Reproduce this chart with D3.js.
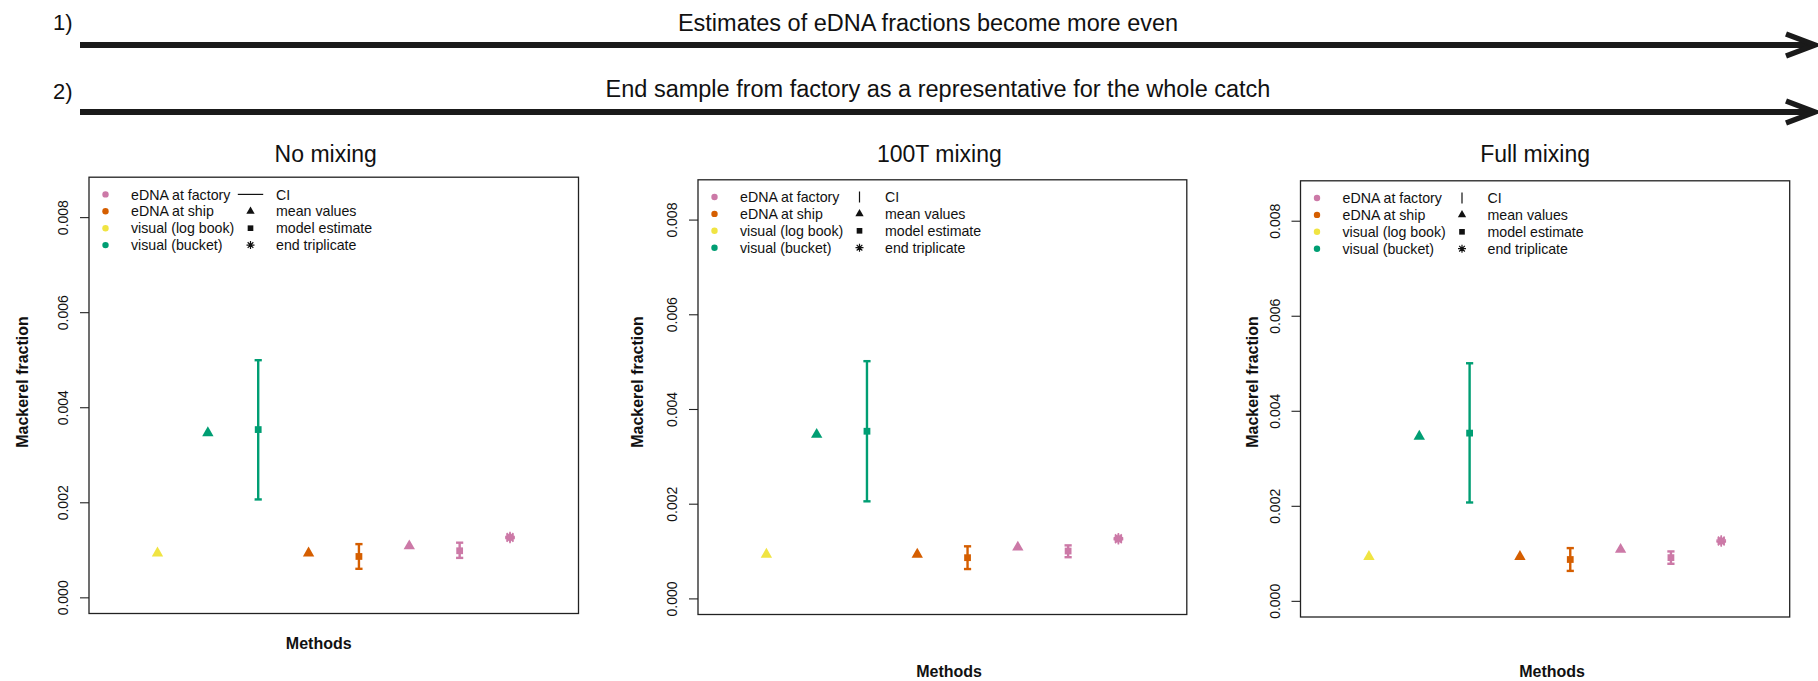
<!DOCTYPE html>
<html>
<head>
<meta charset="utf-8">
<script src="https://cdn.jsdelivr.net/npm/d3@7"></script>
<style>
  body { margin: 0; background: #fff; }
  svg { display: block; }
  text { font-family: "Liberation Sans", Arial, Helvetica, sans-serif; fill: #111; }
</style>
</head>
<body>
<svg id="chart" width="1818" height="681"></svg>
<script>
// ---- data ----------------------------------------------------------------
const panelTitles = ["No mixing", "100T mixing", "Full mixing"];

// eight method slots along the x axis (1..8)
const methodSlots = [
  "visual (log book) mean", "visual (bucket) mean", "visual (bucket) model",
  "eDNA at ship mean", "eDNA at ship model",
  "eDNA at factory mean", "eDNA at factory model", "eDNA at factory end triplicate"
];

// mean values: log book, bucket, ship, factory
const meanSlot   = [1, 2, 4, 6];
const meanGroup  = [2, 3, 1, 0];               // index into groupColors
const meanValues = [0.00093, 0.00346, 0.00093, 0.00108];

// model estimates with CI: bucket, ship, factory (one row per panel)
const modelSlot  = [3, 5, 7];
const modelGroup = [3, 1, 0];
const modelMid  = [[0.00353, 0.00086, 0.00098], [0.00353, 0.00086, 0.00100], [0.00353, 0.00087, 0.00091]];
const modelLow  = [[0.00206, 0.00060, 0.00083], [0.00205, 0.00062, 0.00087], [0.00207, 0.00063, 0.00078]];
const modelHigh = [[0.00499, 0.00112, 0.00115], [0.00501, 0.00110, 0.00112], [0.00500, 0.00111, 0.00104]];

// end-of-factory triplicate
const endSlot = 8;
const endTriplicate = [0.00124, 0.00126, 0.00128];

const groupNames  = ["eDNA at factory", "eDNA at ship", "visual (log book)", "visual (bucket)"];
const groupColors = ["#CC79A7", "#D55E00", "#F0E442", "#009E73"];
const symbolNames = ["CI", "mean values", "model estimate", "end triplicate"];

const yTicks  = [0, 0.002, 0.004, 0.006, 0.008];
const yLimits = [0, 0.0085];
const xLimits = [0, 9];

const headerLabels = ["1)", "2)"];
const headerTexts = [
  "Estimates of eDNA fractions become more even",
  "End sample from factory as a representative for the whole catch"
];

// ---- layout --------------------------------------------------------------
const svg = d3.select("#chart");
svg.append("rect").attr("width", 1818).attr("height", 681).attr("fill", "#fff");

const boxes = [
  { x0: 89,     x1: 578.5,  y0: 177.2, y1: 613.5, ylab: 67.3, titleDx: -8,  methDx: -15, methY: 648.7, ciStyle: "h" },
  { x0: 698,    x1: 1186.8, y0: 179.8, y1: 614.5, ylab: 60.4, titleDx: -3,  methDx: 6.7, methY: 676.7, ciStyle: "v" },
  { x0: 1300.5, x1: 1789.7, y0: 180.8, y1: 617,   ylab: 48.1, titleDx: -10, methDx: 7,   methY: 676.7, ciStyle: "v" }
];

// R-style 4% axis padding
function padded([a, b]) { const d = (b - a) * 0.04; return [a - d, b + d]; }

// ---- header arrows -------------------------------------------------------
const headerRows = [{ label: 29.5, text: 31, arrow: 45, cx: 928 }, { label: 99, text: 97, arrow: 112, cx: 938 }];
headerRows.forEach((r, i) => {
  svg.append("text").attr("x", 53).attr("y", r.label)
    .style("font-size", "22px").text(headerLabels[i]);
  svg.append("text").attr("x", r.cx).attr("y", r.text).attr("text-anchor", "middle")
    .style("font-size", "23.5px").text(headerTexts[i]);
  svg.append("line").attr("x1", 80).attr("x2", 1812).attr("y1", r.arrow).attr("y2", r.arrow)
    .attr("stroke", "#1a1a1a").attr("stroke-width", 6);
  svg.append("path")
    .attr("d", `M1786,${r.arrow - 11} L1815,${r.arrow} L1786,${r.arrow + 11}`)
    .attr("fill", "none").attr("stroke", "#1a1a1a").attr("stroke-width", 5.5)
    .attr("stroke-linejoin", "miter").attr("stroke-miterlimit", 10);
});

// ---- symbol helpers ------------------------------------------------------
function asterisk(r) {
  const a = r * 0.7071;
  return `M0,${-r}V${r}M${-r},0H${r}M${-a},${-a}L${a},${a}M${-a},${a}L${a},${-a}`;
}
const triPath = s => d3.symbol(d3.symbolTriangle, s)();
const sqPath  = s => d3.symbol(d3.symbolSquare, s)();

// ---- panels --------------------------------------------------------------
boxes.forEach((b, p) => {
  const g = svg.append("g");
  const x = d3.scaleLinear().domain(padded(xLimits)).range([b.x0, b.x1]);
  const y = d3.scaleLinear().domain(padded(yLimits)).range([b.y1, b.y0]);
  const cx = (b.x0 + b.x1) / 2;

  // title
  g.append("text").attr("x", cx + b.titleDx).attr("y", 162).attr("text-anchor", "middle")
    .style("font-size", "23px").text(panelTitles[p]);

  // y axis
  const axis = g.append("g").attr("transform", `translate(${b.x0},0)`)
    .call(d3.axisLeft(y).tickValues(yTicks).tickFormat(d3.format(".3f")).tickSize(9));
  axis.select(".domain").remove();
  axis.selectAll(".tick line").attr("stroke", "#222").attr("stroke-width", 1.1);
  axis.selectAll(".tick text")
    .attr("x", null).attr("dy", null).attr("fill", "#111")
    .attr("text-anchor", "middle")
    .attr("transform", "translate(-20.6,0) rotate(-90)")
    .style("font-size", "14px")
    .style("font-family", "'Liberation Sans', Arial, sans-serif");

  // y label
  g.append("text")
    .attr("transform", `translate(${b.x0 - b.ylab + 5.8},382) rotate(-90)`)
    .attr("text-anchor", "middle").style("font-size", "16px").style("font-weight", "bold")
    .text("Mackerel fraction");

  // x label
  g.append("text").attr("x", cx + b.methDx).attr("y", b.methY).attr("text-anchor", "middle")
    .style("font-size", "16px").style("font-weight", "bold").text("Methods");

  // plot box
  g.append("rect").attr("x", b.x0).attr("y", b.y0)
    .attr("width", b.x1 - b.x0).attr("height", b.y1 - b.y0)
    .attr("fill", "none").attr("stroke", "#222").attr("stroke-width", 1.3);

  // mean values (triangles)
  g.selectAll("path.mean").data(meanValues).join("path").attr("class", "mean")
    .attr("d", triPath(56))
    .attr("transform", (d, i) => `translate(${x(meanSlot[i])},${y(d)})`)
    .attr("fill", (d, i) => groupColors[meanGroup[i]]);

  // model estimates with CI
  const models = modelMid[p].map((m, i) => ({ m, lo: modelLow[p][i], hi: modelHigh[p][i], slot: modelSlot[i], col: groupColors[modelGroup[i]] }));
  const eb = g.selectAll("g.model").data(models).join("g").attr("class", "model");
  eb.append("line")
    .attr("x1", d => x(d.slot)).attr("x2", d => x(d.slot))
    .attr("y1", d => y(d.lo)).attr("y2", d => y(d.hi))
    .attr("stroke", d => d.col).attr("stroke-width", 2.4);
  ["lo", "hi"].forEach(k => {
    eb.append("line")
      .attr("x1", d => x(d.slot) - 3.6).attr("x2", d => x(d.slot) + 3.6)
      .attr("y1", d => y(d[k])).attr("y2", d => y(d[k]))
      .attr("stroke", d => d.col).attr("stroke-width", 2.4);
  });
  eb.append("path").attr("d", sqPath(46))
    .attr("transform", d => `translate(${x(d.slot)},${y(d.m)})`)
    .attr("fill", d => d.col);

  // end triplicate (asterisks)
  g.selectAll("path.end").data(endTriplicate).join("path").attr("class", "end")
    .attr("d", asterisk(4.8))
    .attr("transform", d => `translate(${x(endSlot)},${y(d)})`)
    .attr("fill", "none").attr("stroke", groupColors[0]).attr("stroke-width", 1.6);

  // legend
  const rowY = i => b.y0 + 17.2 + i * 16.9;
  const leg = g.append("g");
  groupNames.forEach((name, i) => {
    leg.append("circle").attr("cx", b.x0 + 16.5).attr("cy", rowY(i)).attr("r", 3.2).attr("fill", groupColors[i]);
    leg.append("text").attr("x", b.x0 + 42).attr("y", rowY(i) + 5.1)
      .style("font-size", "14.2px").text(name);
  });
  const sx = b.x0 + 161.5;
  if (b.ciStyle === "h") {
    leg.append("line").attr("x1", sx - 12.7).attr("x2", sx + 12.7)
      .attr("y1", rowY(0)).attr("y2", rowY(0)).attr("stroke", "#111").attr("stroke-width", 1.2);
  } else {
    leg.append("line").attr("x1", sx).attr("x2", sx)
      .attr("y1", rowY(0) - 5.5).attr("y2", rowY(0) + 5.5).attr("stroke", "#111").attr("stroke-width", 1.2);
  }
  leg.append("path").attr("d", triPath(30)).attr("transform", `translate(${sx},${rowY(1)})`).attr("fill", "#111");
  leg.append("path").attr("d", sqPath(32)).attr("transform", `translate(${sx},${rowY(2)})`).attr("fill", "#111");
  leg.append("path").attr("d", asterisk(4)).attr("transform", `translate(${sx},${rowY(3)})`)
    .attr("fill", "none").attr("stroke", "#111").attr("stroke-width", 1.2);
  symbolNames.forEach((name, i) => {
    leg.append("text").attr("x", b.x0 + 187).attr("y", rowY(i) + 5.1)
      .style("font-size", "14.2px").text(name);
  });
});
</script>
</body>
</html>
